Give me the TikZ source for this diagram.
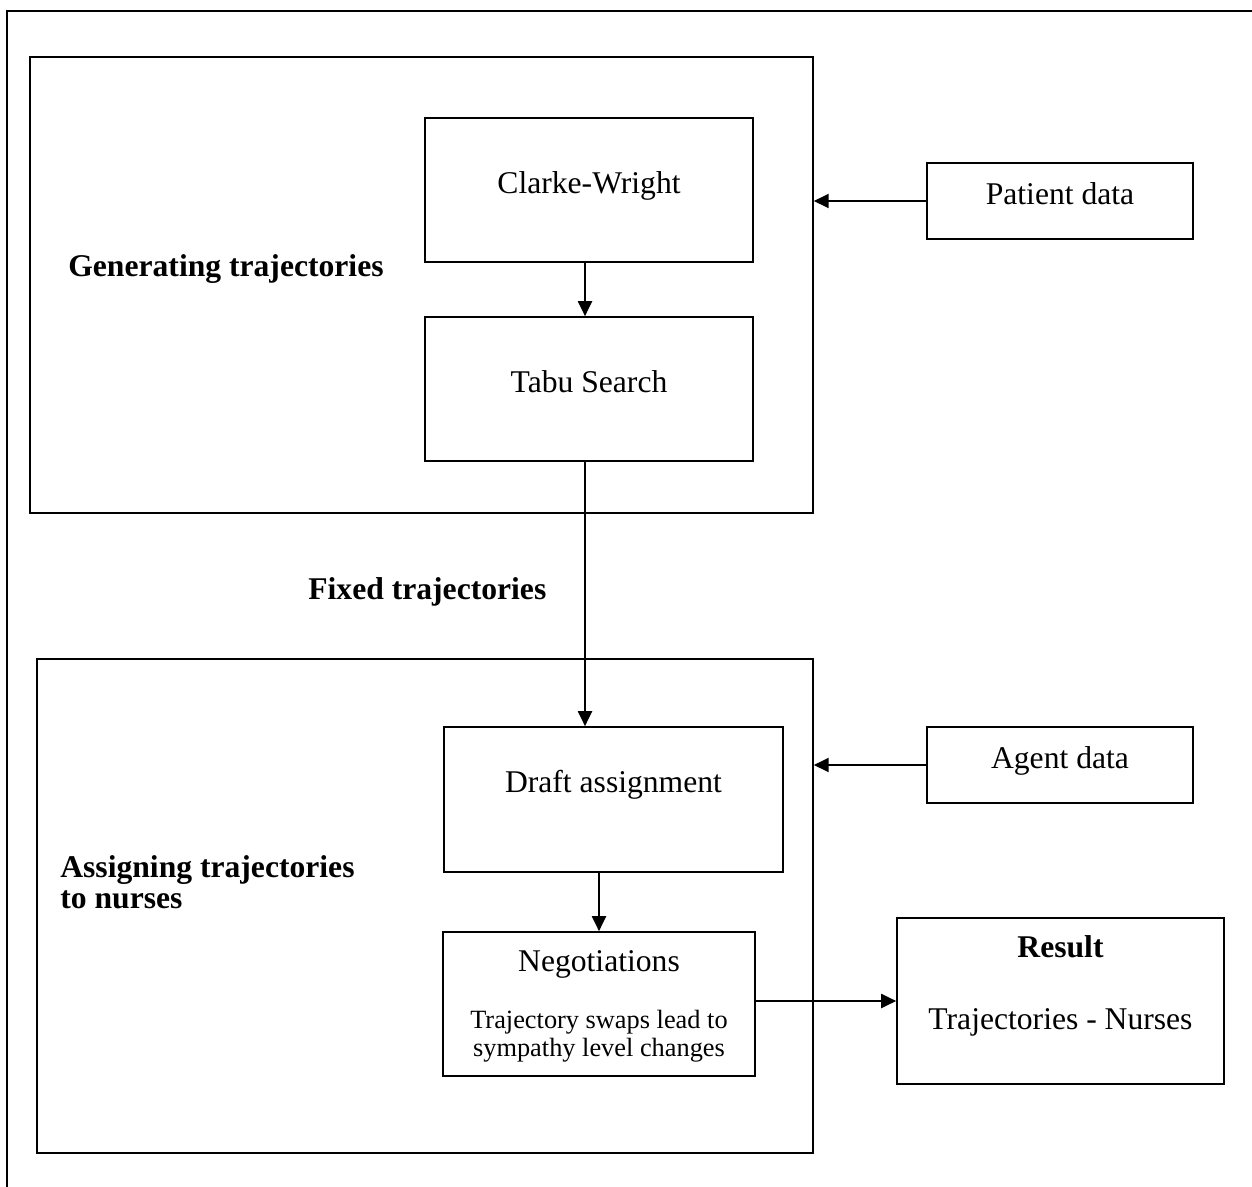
\documentclass[tikz,border=0pt]{standalone}
\usepackage{fontspec}
\setmainfont{Liberation Serif}
\usepackage{tikz}
\usetikzlibrary{arrows.meta,positioning,calc}

\tikzset{
    stepbox/.style={draw, line width=1pt, inner sep=0pt},
    oneline/.style={text height=0.43cm, text depth=0.31cm},
    arr/.style={line width=1pt, -{Triangle[length=8.5pt,width=8pt]}},
    bigtxt/.style={font=\fontsize{18}{21}\selectfont},
    boldtxt/.style={font=\fontsize{18}{17.6}\selectfont\bfseries, inner sep=0pt},
    smalltxt/.style={font=\fontsize{15}{15.9}\selectfont}
}

\begin{document}
\begin{tikzpicture}[x=0.02cm, y=-0.02cm, bigtxt]
    \useasboundingbox (0,0) rectangle (1252,1187);

    % 外框
    \draw[line width=1pt] (7,1187) -- (7,11) -- (1252,11);

    % 两个阶段
    \node[stepbox, minimum width=15.66cm, minimum height=9.12cm] (gen) at (421.5,285) {};
    \node[stepbox, minimum width=15.52cm, minimum height=9.88cm] (asg) at (425,906) {};
    \node[boldtxt, anchor=base west] (gentxt) at (68,276) {Generating trajectories};
    \node[boldtxt, anchor=north west, align=left] (asgtxt) at (60,855.5)
        {Assigning trajectories\\to nurses};
    \node[boldtxt, anchor=base west] (fixtxt) at (308,599) {Fixed trajectories};

    % 生成轨迹
    \node[stepbox, oneline, minimum width=6.56cm, minimum height=2.88cm] (cw) at (589,190) {Clarke-Wright};
    \node[stepbox, oneline, minimum width=6.56cm, minimum height=2.88cm] (tabu) at (589,389) {Tabu Search};
    \node[stepbox, oneline, minimum width=5.32cm, minimum height=1.52cm] (patient) at (1060,201) {Patient data};

    % 分配轨迹
    \node[stepbox, oneline, text depth=0.73cm, minimum width=6.78cm, minimum height=2.90cm] (draft) at (613.5,799.5) {Draft assignment};
    \node[stepbox, oneline, minimum width=5.32cm, minimum height=1.52cm] (agent) at (1060,765) {Agent data};
    \node[stepbox, minimum width=6.24cm, minimum height=2.88cm] (neg) at (599,1004) {};
    \node[anchor=base] (negtitle) at ($(neg.north)+(0,40)$) {Negotiations};
    \node[smalltxt, anchor=north, align=center, inner sep=0pt] (negnote) at ($(neg.north)+(0,79)$)
        {Trajectory swaps lead to\\sympathy level changes};

    % 结果
    \node[stepbox, minimum width=6.54cm, minimum height=3.32cm] (res) at (1060.5,1001) {};
    \node[boldtxt, anchor=base] (restitle) at ($(res.north)+(0,40)$) {Result};
    \node[anchor=base] (respair) at ($(res.north)+(0,112)$) {Trajectories - Nurses};

    % 箭头
    \draw[arr] ([xshift=-0.08cm]cw.south) -- ([xshift=-0.08cm]tabu.north);
    \draw[arr] (patient.west) -- (patient.west -| gen.east);
    \draw[arr] ([xshift=-0.08cm]tabu.south) -- ([xshift=-0.08cm]tabu.south |- draft.north);
    \draw[arr] (agent.west) -- (agent.west -| asg.east);
    \draw[arr] (neg.north |- draft.south) -- (neg.north);
    \draw[arr] (res.west -| neg.east) -- (res.west);
\end{tikzpicture}
\end{document}
